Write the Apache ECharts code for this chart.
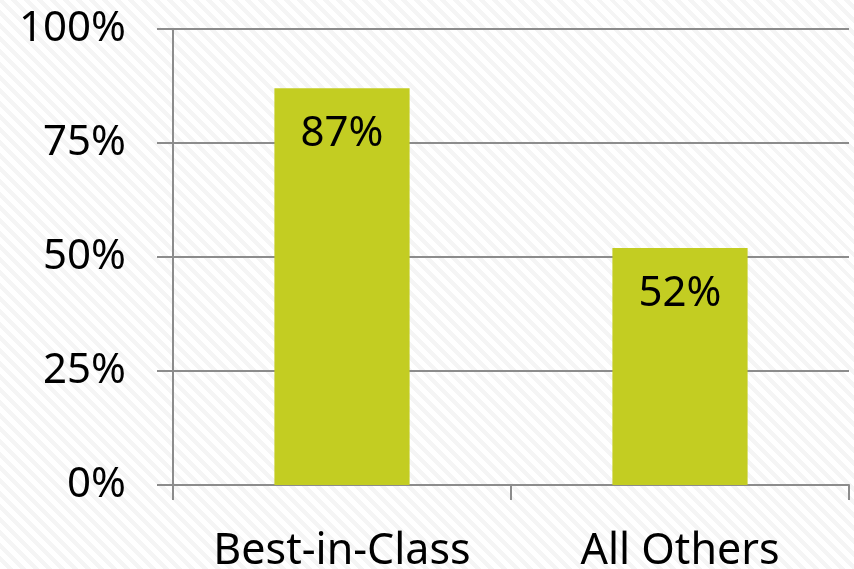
<!DOCTYPE html>
<html>
<head>
<meta charset="utf-8">
<script src="https://cdn.jsdelivr.net/npm/echarts@6/dist/echarts.min.js"></script>
<style>
  html, body { margin: 0; padding: 0; background: #ffffff; }
  #chart {
    width: 854px; height: 569px;
    background: repeating-linear-gradient(45deg, #ffffff 0px, #ffffff 5px, #f5f5f5 5px, #f5f5f5 9.2px);
  }
</style>
</head>
<body>
<div id="chart"></div>
<script>
// Share of respondents by group
const categories = ['Best-in-Class', 'All Others'];
const values = [87, 52];
const yTicks = [0, 25, 50, 75, 100];

const FONT = '"Source Sans Pro", "Noto Sans", sans-serif';

const chart = echarts.init(document.getElementById('chart'), null, { renderer: 'canvas' });
chart.setOption({
  backgroundColor: 'transparent',
  animation: false,
  grid: { left: 173, right: 5, top: 29, bottom: 84, containLabel: false, outerBoundsMode: 'none' },
  xAxis: {
    type: 'category',
    data: categories,
    axisLine: { lineStyle: { color: '#8c8c8c', width: 2 } },
    axisTick: { show: true, length: 15, alignWithLabel: false, lineStyle: { color: '#8c8c8c', width: 2 } },
    axisLabel: { color: '#000', fontFamily: FONT, fontSize: 43, margin: 45 }
  },
  yAxis: {
    type: 'value',
    min: yTicks[0],
    max: yTicks[yTicks.length - 1],
    interval: 25,
    axisLine: { show: true, lineStyle: { color: '#8c8c8c', width: 2 } },
    axisTick: { show: true, length: 16, lineStyle: { color: '#8c8c8c', width: 2 } },
    splitLine: { show: true, lineStyle: { color: '#8c8c8c', width: 2 } },
    axisLabel: { color: '#000', fontFamily: FONT, fontSize: 42, margin: 47, formatter: v => v + '%' }
  },
  series: [{
    type: 'bar',
    data: values,
    barWidth: '40%',
    itemStyle: { color: '#c3cd22' },
    label: {
      show: true,
      position: 'insideTop',
      distance: 25,
      color: '#000',
      fontFamily: FONT,
      fontSize: 42,
      formatter: p => p.value + '%'
    }
  }]
});
</script>
</body>
</html>
